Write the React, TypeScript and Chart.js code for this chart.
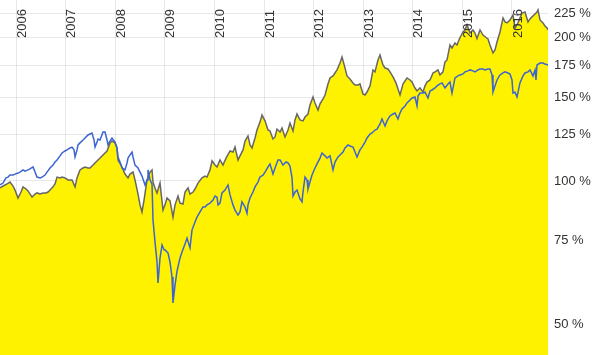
import React, { useEffect, useRef } from "react";
import { Chart, registerables } from "chart.js";

Chart.register(...registerables);

// Time positions in fractional years, values in % of start
const grayDates = [2005.677,2005.738,2005.819,2005.879,2005.94,2005.98,2006.04,2006.101,2006.141,2006.202,2006.242,2006.323,2006.383,2006.423,2006.484,2006.544,2006.605,2006.645,2006.685,2006.746,2006.786,2006.827,2006.887,2006.927,2006.988,2007.048,2007.129,2007.19,2007.23,2007.29,2007.351,2007.391,2007.452,2007.492,2007.552,2007.593,2007.653,2007.694,2007.754,2007.794,2007.835,2007.895,2007.935,2007.996,2008.036,2008.056,2008.117,2008.198,2008.258,2008.298,2008.359,2008.399,2008.46,2008.5,2008.54,2008.581,2008.641,2008.702,2008.742,2008.762,2008.802,2008.843,2008.903,2008.964,2009.004,2009.044,2009.105,2009.165,2009.206,2009.266,2009.306,2009.367,2009.407,2009.468,2009.508,2009.569,2009.609,2009.669,2009.75,2009.81,2009.851,2009.911,2009.952,2010.012,2010.052,2010.113,2010.173,2010.234,2010.315,2010.375,2010.415,2010.476,2010.516,2010.577,2010.617,2010.677,2010.718,2010.758,2010.819,2010.859,2010.919,2010.96,2011.02,2011.081,2011.121,2011.181,2011.222,2011.262,2011.323,2011.363,2011.423,2011.484,2011.524,2011.585,2011.625,2011.665,2011.726,2011.786,2011.827,2011.887,2011.927,2011.988,2012.028,2012.089,2012.129,2012.19,2012.23,2012.29,2012.331,2012.391,2012.431,2012.472,2012.532,2012.573,2012.633,2012.673,2012.734,2012.794,2012.835,2012.895,2012.935,2012.996,2013.036,2013.077,2013.137,2013.198,2013.238,2013.298,2013.339,2013.399,2013.44,2013.5,2013.54,2013.601,2013.661,2013.702,2013.742,2013.802,2013.843,2013.883,2013.944,2013.984,2014.044,2014.085,2014.145,2014.206,2014.246,2014.286,2014.347,2014.407,2014.448,2014.508,2014.548,2014.609,2014.649,2014.69,2014.75,2014.79,2014.851,2014.891,2014.952,2015.012,2015.052,2015.093,2015.153,2015.214,2015.254,2015.294,2015.355,2015.415,2015.476,2015.516,2015.556,2015.617,2015.657,2015.698,2015.758,2015.819,2015.859,2015.899,2015.96,2016.02,2016.06,2016.121,2016.161,2016.202,2016.262,2016.323,2016.363,2016.403,2016.464,2016.504,2016.524,2016.565,2016.625,2016.665,2016.706,2016.726];
const grayValues = [96.7,97.6,98.6,99.5,97.6,95.7,92.1,94.8,97.2,96.2,95.3,92.5,93.9,94.4,93.9,94.4,94.4,94.8,95.7,97.2,98.6,101.9,101.5,101.9,101.5,100.5,100.5,97.2,101.5,105.5,106.5,107.0,106.5,106.5,108.0,109.1,110.7,111.7,113.4,114.5,115.6,120.2,121.3,120.2,117.3,110.7,108.0,103.4,101.5,103.4,104.4,100.5,93.9,89.1,86.1,91.2,100.5,104.4,105.5,99.5,96.7,94.4,99.0,86.9,89.1,92.1,90.8,84.0,89.1,93.0,89.9,89.5,94.8,96.7,93.9,94.8,96.2,99.0,101.5,102.4,101.9,105.5,110.2,108.0,107.0,110.7,108.0,111.7,115.6,115.0,117.8,110.7,112.9,116.2,121.3,124.3,119.0,117.3,123.1,127.9,132.9,137.5,133.7,127.9,127.3,122.5,123.7,128.5,126.7,129.2,123.7,127.9,132.3,127.3,134.3,138.2,134.3,133.7,136.2,138.2,144.4,150.0,145.8,140.9,145.1,148.6,151.5,159.8,164.5,166.1,168.5,171.0,176.8,182.0,172.7,166.1,163.7,160.6,159.0,159.0,159.8,152.2,151.5,153.7,158.3,171.0,169.4,179.4,183.8,175.1,172.6,171.8,169.4,165.3,160.6,155.9,151.5,159.8,162.1,164.5,162.9,161.3,156.7,154.5,156.7,153.7,158.3,161.3,162.9,168.5,169.4,171.0,166.9,169.4,177.7,179.4,192.9,190.1,194.8,192.9,200.0,205.4,207.4,212.5,204.4,207.4,204.4,199.0,207.4,202.4,200.0,198.6,192.9,185.6,188.3,195.7,205.4,219.8,215.6,214.6,217.7,223.0,209.4,214.6,219.8,225.1,226.2,215.6,218.8,220.9,224.0,226.2,228.5,217.7,214.6,211.5,209.4,207.4];

const blueDates = [2005.677,2005.738,2005.798,2005.839,2005.879,2005.94,2005.98,2006.04,2006.081,2006.141,2006.181,2006.242,2006.282,2006.343,2006.383,2006.423,2006.484,2006.524,2006.585,2006.625,2006.685,2006.746,2006.786,2006.827,2006.887,2006.927,2006.988,2007.028,2007.089,2007.129,2007.169,2007.19,2007.23,2007.25,2007.29,2007.351,2007.391,2007.452,2007.492,2007.532,2007.573,2007.593,2007.633,2007.653,2007.694,2007.754,2007.794,2007.835,2007.855,2007.895,2007.935,2007.996,2008.036,2008.056,2008.097,2008.137,2008.198,2008.238,2008.258,2008.298,2008.339,2008.359,2008.399,2008.46,2008.5,2008.54,2008.601,2008.641,2008.661,2008.702,2008.742,2008.762,2008.802,2008.843,2008.863,2008.903,2008.944,2008.984,2009.004,2009.065,2009.105,2009.145,2009.165,2009.206,2009.246,2009.306,2009.347,2009.407,2009.448,2009.508,2009.548,2009.609,2009.649,2009.71,2009.77,2009.81,2009.851,2009.911,2009.972,2010.012,2010.052,2010.073,2010.113,2010.153,2010.214,2010.274,2010.315,2010.375,2010.415,2010.476,2010.516,2010.556,2010.617,2010.657,2010.677,2010.718,2010.778,2010.819,2010.879,2010.919,2010.98,2011.02,2011.081,2011.121,2011.181,2011.222,2011.282,2011.323,2011.383,2011.444,2011.484,2011.524,2011.565,2011.585,2011.625,2011.665,2011.726,2011.766,2011.786,2011.827,2011.867,2011.887,2011.927,2011.968,2012.028,2012.069,2012.129,2012.169,2012.23,2012.27,2012.331,2012.391,2012.431,2012.492,2012.532,2012.593,2012.633,2012.694,2012.734,2012.794,2012.835,2012.875,2012.935,2012.976,2013.036,2013.077,2013.137,2013.177,2013.238,2013.278,2013.339,2013.379,2013.44,2013.48,2013.54,2013.601,2013.641,2013.702,2013.742,2013.782,2013.843,2013.883,2013.944,2013.984,2014.044,2014.085,2014.105,2014.145,2014.206,2014.246,2014.306,2014.347,2014.387,2014.448,2014.488,2014.548,2014.589,2014.649,2014.71,2014.75,2014.79,2014.851,2014.911,2014.952,2015.012,2015.052,2015.113,2015.153,2015.214,2015.254,2015.315,2015.355,2015.415,2015.456,2015.516,2015.556,2015.597,2015.617,2015.657,2015.698,2015.758,2015.819,2015.859,2015.919,2015.96,2016.0,2016.02,2016.06,2016.101,2016.161,2016.222,2016.262,2016.323,2016.363,2016.423,2016.464,2016.484,2016.504,2016.565,2016.625,2016.665,2016.726];
const blueValues = [98.1,99.0,101.5,101.9,102.9,102.9,103.4,103.9,104.4,105.5,104.9,105.5,106.0,107.0,104.4,101.9,101.5,101.9,102.9,104.4,106.5,108.0,109.6,110.7,112.9,114.5,115.6,116.2,117.3,117.8,116.2,112.3,116.2,119.0,120.2,121.9,123.1,124.9,125.5,126.1,121.9,117.8,120.7,122.5,121.9,126.7,126.7,121.9,119.0,121.3,123.1,120.7,117.3,112.3,109.6,106.5,105.5,109.1,111.7,113.4,115.0,112.3,108.0,106.5,104.4,102.4,98.1,100.5,105.5,100.5,98.6,82.8,74.5,67.6,61.1,68.9,73.4,71.7,71.7,70.6,67.6,62.9,55.5,60.5,64.7,68.9,71.0,73.8,75.9,72.4,78.9,82.0,84.0,86.1,88.2,88.2,89.1,89.9,91.2,93.0,92.5,89.1,89.9,94.4,95.7,98.1,93.5,89.1,86.9,84.8,86.1,90.4,88.2,85.6,89.1,92.1,94.8,97.2,99.5,102.0,102.9,104.4,107.0,108.6,103.4,106.5,110.7,110.7,108.0,109.6,109.1,107.5,101.5,93.0,94.8,95.7,91.7,90.4,94.8,101.9,100.5,96.2,99.5,102.9,106.5,108.6,111.7,114.5,112.9,111.7,112.9,105.5,109.6,112.3,113.4,115.0,117.3,119.0,118.4,117.8,115.0,112.3,116.2,117.8,120.7,123.1,125.5,126.1,127.9,128.5,131.7,134.9,130.4,133.7,136.9,138.2,138.9,134.9,138.9,141.6,143.7,145.8,147.9,149.3,150.0,143.7,150.7,152.9,152.9,153.7,149.3,154.5,155.2,156.7,158.3,159.8,160.6,156.7,159.8,161.3,152.9,164.5,166.1,166.9,167.7,169.4,170.2,171.0,170.2,169.4,171.0,171.8,171.8,171.0,171.8,171.8,166.9,153.7,158.3,162.9,166.9,168.5,169.4,168.5,167.7,162.9,152.9,153.7,150.0,160.6,166.1,168.5,169.4,171.0,166.1,171.0,162.9,175.1,176.8,176.8,175.9,175.1];

const yearTicks = [2006, 2007, 2008, 2009, 2010, 2011, 2012, 2013, 2014, 2015, 2016];
const percentTicks = [50, 75, 100, 125, 150, 175, 200, 225];

const X_MIN = 2005.677;
const X_MAX = 2016.726;
const Y_MIN = 43.15;
const Y_MAX = 239.7;

const FONT = "'Liberation Sans', Arial, sans-serif";

// Draws the rotated year labels inside the plot, next to each x grid line
const yearLabelPlugin = {
  id: "yearLabels",
  afterDraw(chart: any) {
    const xs = chart.scales.x;
    const ctx = chart.ctx;
    ctx.save();
    ctx.fillStyle = "#333333";
    ctx.font = `13px ${FONT}`;
    ctx.textAlign = "left";
    ctx.textBaseline = "middle";
    for (const t of xs.ticks) {
      const px = xs.getPixelForValue(t.value);
      ctx.save();
      ctx.translate(px + 6, chart.chartArea.top + 38);
      ctx.rotate(-Math.PI / 2);
      ctx.fillText(String(t.value), 0, 0);
      ctx.restore();
    }
    ctx.restore();
  },
};

export default function App() {
  const canvasRef = useRef<HTMLCanvasElement | null>(null);

  useEffect(() => {
    const canvas = canvasRef.current;
    if (!canvas) return;
    const toPts = (xs: number[], ys: number[]) => xs.map((x, i) => ({ x, y: ys[i] }));
    const chart = new Chart(canvas, {
      type: "line",
      data: {
        datasets: [
          {
            label: "blue",
            data: toPts(blueDates, blueValues),
            borderColor: "#3c64d2",
            borderWidth: 1.5,
            pointRadius: 0,
            tension: 0,
            fill: false,
          },
          {
            label: "gray",
            data: toPts(grayDates, grayValues),
            borderColor: "#666666",
            borderWidth: 1.5,
            backgroundColor: "#fff200",
            pointRadius: 0,
            tension: 0,
            fill: "start",
          },
        ],
      },
      plugins: [yearLabelPlugin],
      options: {
        responsive: false,
        animation: false,
        layout: { padding: 0 },
        plugins: { legend: { display: false }, tooltip: { enabled: false } },
        scales: {
          x: {
            type: "linear",
            position: "top",
            min: X_MIN,
            max: X_MAX,
            z: 1,
            border: { display: false },
            grid: { color: "rgba(0,0,0,0.09)", drawTicks: false },
            afterBuildTicks: (s: any) => {
              s.ticks = yearTicks.map((v) => ({ value: v }));
            },
            afterFit: (s: any) => {
              s.height = 0;
              s.paddingLeft = 0;
              s.paddingRight = 0;
              s.paddingTop = 0;
              s.paddingBottom = 0;
            },
            ticks: { display: false },
          },
          y: {
            type: "logarithmic",
            position: "right",
            min: Y_MIN,
            max: Y_MAX,
            z: 1,
            border: { display: false },
            grid: { color: "rgba(0,0,0,0.09)", drawTicks: false },
            afterBuildTicks: (s: any) => {
              s.ticks = percentTicks.map((v) => ({ value: v }));
            },
            afterFit: (s: any) => {
              s.width = 57;
              s.paddingTop = 0;
              s.paddingBottom = 0;
              s.paddingLeft = 0;
              s.paddingRight = 0;
            },
            ticks: {
              padding: 6,
              color: "#333333",
              font: { family: FONT, size: 13 },
              callback: (v: any) => `${v} %`,
            },
          },
        },
      },
    });
    return () => chart.destroy();
  }, []);

  return (
    <div style={{ position: "absolute", left: 0, top: 0, width: 605, height: 355, background: "#fff" }}>
      <canvas ref={canvasRef} width={605} height={355} style={{ display: "block" }} />
    </div>
  );
}
